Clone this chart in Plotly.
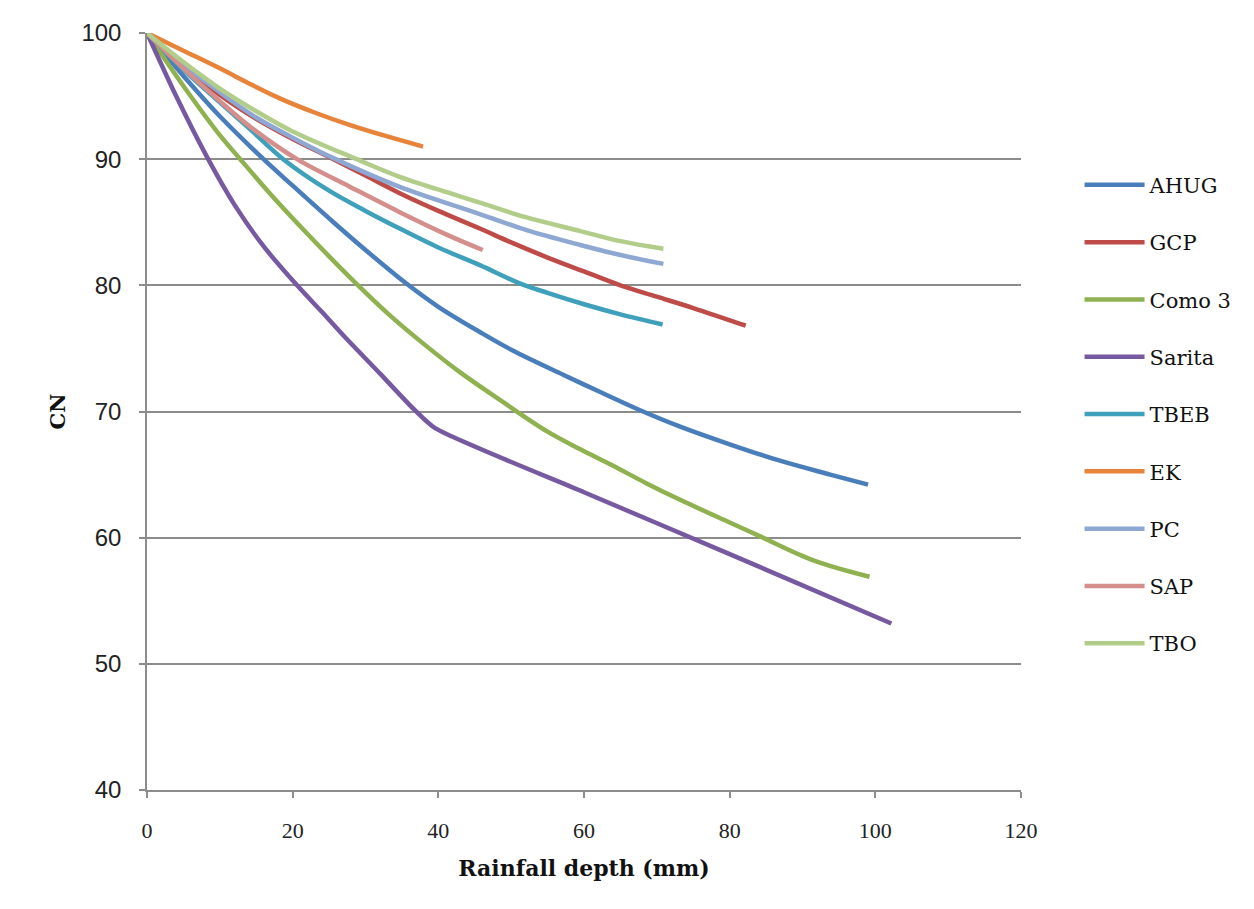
import plotly.graph_objects as go

# ---- data ----
ahug_x = [0, 5, 10, 16, 20, 25.6, 30, 35.7, 40, 45.7, 50, 57.2, 62, 67.7, 73.2, 80, 86.9, 93.8, 99]
ahug_y = [100, 96.6, 93.4, 90, 87.9, 85.0, 82.8, 80.1, 78.3, 76.3, 74.9, 72.9, 71.6, 70.1, 68.8, 67.4, 66.1, 65.0, 64.2]

gcp_x = [0, 5, 10, 15, 20, 25.6, 30, 34.7, 40, 45.7, 50, 55, 60, 65, 70, 75, 82.2]
gcp_y = [100, 97.4, 95.1, 93.2, 91.6, 90, 88.7, 87.3, 85.9, 84.5, 83.4, 82.2, 81.1, 80.0, 79.1, 78.2, 76.8]

como_x = [0, 5, 10, 12.8, 17, 21, 25, 28.8, 33, 37.9, 43, 48.5, 55, 59.5, 64, 68.6, 73.2, 80, 84.2, 91.5, 99.2]
como_y = [100, 95.8, 91.9, 90, 87.2, 84.7, 82.3, 80.1, 77.8, 75.4, 73.1, 70.9, 68.4, 67.0, 65.7, 64.3, 63.0, 61.2, 60.1, 58.2, 56.9]

sarita_x = [0, 4, 8.4, 12, 16, 20.6, 24, 27, 32, 36.6, 39.5, 60, 80, 102.2]
sarita_y = [100, 95, 90, 86.4, 83.1, 80, 77.9, 76.0, 73.0, 70.2, 68.7, 63.6, 58.7, 53.2]

tbeb_x = [0, 5, 10, 14.1, 18.7, 25, 30, 34.7, 40, 45.7, 51, 55, 60, 65, 70.8]
tbeb_y = [100, 97.1, 94.5, 92.4, 90, 87.5, 85.9, 84.5, 83.0, 81.6, 80.2, 79.4, 78.5, 77.7, 76.9]

ek_x = [0, 5, 10, 14, 18.3, 23, 27.9, 33, 37.9]
ek_y = [100, 98.6, 97.2, 96.0, 94.8, 93.7, 92.7, 91.8, 91.0]

pc_x = [0, 5, 10, 15, 20, 25.5, 34.7, 45.7, 52, 59.5, 65, 70.9]
pc_y = [100, 97.5, 95.3, 93.3, 91.7, 90.1, 87.8, 85.65, 84.4, 83.2, 82.4, 81.7]

sap_x = [0, 5, 10, 14.1, 20.6, 27.9, 34.7, 41.6, 46.1]
sap_y = [100, 97.2, 94.6, 92.6, 90, 87.8, 85.8, 83.9, 82.8]

tbo_x = [0, 5, 10, 15, 20, 28.8, 34.7, 41.6, 45.7, 52, 59.5, 65, 70.9]
tbo_y = [100, 97.7, 95.6, 93.8, 92.2, 90, 88.6, 87.3, 86.55, 85.4, 84.3, 83.5, 82.9]

names = ["AHUG", "GCP", "Como 3", "Sarita", "TBEB", "EK", "PC", "SAP", "TBO"]
colors = ["#4A7EBB", "#BE4B48", "#8FB14F", "#7659A0", "#3FA0BC",
          "#E8833A", "#8EA8D3", "#D48E8C", "#B2CC89"]
xs = [ahug_x, gcp_x, como_x, sarita_x, tbeb_x, ek_x, pc_x, sap_x, tbo_x]
ys = [ahug_y, gcp_y, como_y, sarita_y, tbeb_y, ek_y, pc_y, sap_y, tbo_y]

x_ticks = [0, 20, 40, 60, 80, 100, 120]
y_ticks = [40, 50, 60, 70, 80, 90, 100]

fig = go.Figure()
for name, col, x, y in zip(names, colors, xs, ys):
    sm = 0.6 if name == "Sarita" else 1.0
    fig.add_trace(go.Scatter(
        x=x, y=y, mode="lines", name=name, legendgroup=name,
        line=dict(color=col, width=4.5, shape="spline", smoothing=sm),
    ))

grid_col = "#8C8C8C"
fig.update_layout(
    width=1254, height=909,
    margin=dict(l=139, r=241, t=25, b=127),
    paper_bgcolor="white", plot_bgcolor="white",
    showlegend=True,
    legend=dict(
        x=1.067, xanchor="left", y=0.826, yanchor="top",
        font=dict(family="DejaVu Serif", size=21, color="#111111"),
        tracegroupgap=27, itemwidth=60, bgcolor="rgba(0,0,0,0)",
    ),
    xaxis=dict(
        range=[0, 120], tickvals=x_ticks, showgrid=False, zeroline=False,
        showline=True, linecolor=grid_col, linewidth=1.5,
        ticks="outside", ticklen=6, tickcolor=grid_col, tickwidth=1.5,
        ticklabelstandoff=14,
        tickfont=dict(family="Liberation Serif", size=22, color="#222222"),
        title=dict(text="<b>Rainfall depth (mm)</b>", standoff=18,
                   font=dict(family="DejaVu Serif", size=22, color="#111111")),
    ),
    yaxis=dict(
        range=[40, 100], tickvals=y_ticks, showgrid=True, gridcolor=grid_col,
        gridwidth=1.5, zeroline=False,
        showline=True, linecolor=grid_col, linewidth=1.5,
        ticks="outside", ticklen=6, tickcolor=grid_col, tickwidth=1.5,
        ticklabelstandoff=13,
        tickfont=dict(family="Liberation Sans", size=24, color="#222222"),
        title=dict(text="<b>CN</b>", standoff=10,
                   font=dict(family="DejaVu Serif", size=21, color="#111111")),
    ),
)

# outer chart border
fig.add_shape(type="rect", xref="paper", yref="paper",
              x0=(7 - 147) / 874, x1=(1251 - 147) / 874,
              y0=(790 - 912) / 757, y1=(790 - 5) / 757,
              line=dict(color="#8C8C8C", width=1.5), fillcolor="rgba(0,0,0,0)",
              layer="below")

fig.write_html("out.html")
